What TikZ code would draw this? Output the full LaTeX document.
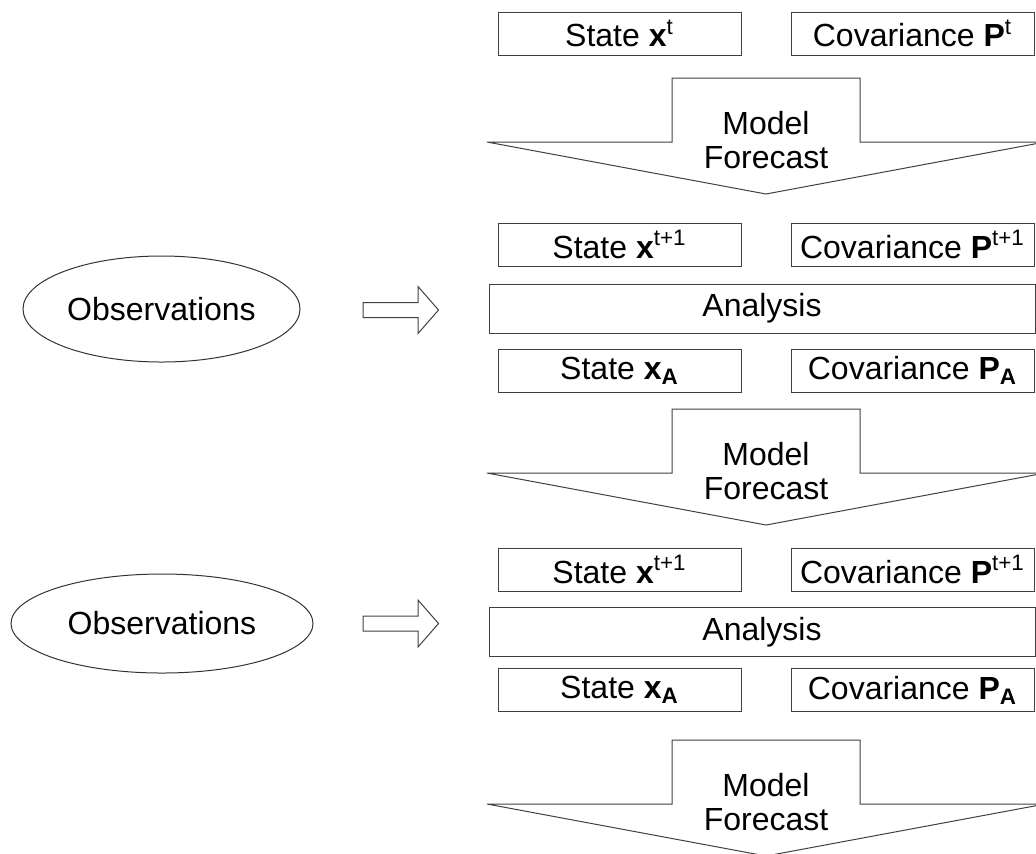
\documentclass[tikz,border=0pt]{standalone}
\usepackage{fontspec}
\setmainfont{Liberation Sans}
\usetikzlibrary{shapes.geometric,positioning}

\tikzset{
  statebox/.style={draw=black!75,line width=0.5pt,minimum width=121.5pt,minimum height=21.5pt,inner sep=0pt},
  analysisbox/.style={statebox,minimum width=273pt,minimum height=24.5pt},
  obsnode/.style={ellipse,draw=black!80,line width=0.5pt,inner sep=0pt},
  blockline/.style={draw=black!75,line width=0.5pt,line join=miter},
}

\begin{document}
\begin{tikzpicture}[x=0.5pt,y=-0.5pt,font=\fontsize{16}{19}\selectfont]
  \clip (0,0) rectangle (1036,853);

  % initial state
  \node[statebox] (S0) at (619.5,33.5) {State \textbf{x}\textsuperscript{t}};
  \node[statebox,right=24.5pt of S0] (P0) {Covariance \textbf{P}\textsuperscript{t}};

  % model forecast arrows
  \foreach \y [count=\i] in {78,409,740} {
    \draw[blockline] (487,\y+64) -- (672,\y+64) -- (672,\y) -- (860,\y)
      -- (860,\y+64) -- (1045,\y+64) -- (766,\y+116) -- cycle;
    \node[align=center,font=\fontsize{16}{17}\selectfont] (F\i) at (766,\y+62) {Model\\Forecast};
  }

  % first analysis cycle
  \node[statebox] (S1) at (619.5,244.5) {State \textbf{x}\textsuperscript{t+1}};
  \node[statebox,right=24.5pt of S1] (P1) {Covariance \textbf{P}\textsuperscript{t+1}};
  \node[analysisbox] (A1) at (762,308.5) {Analysis};
  \node[statebox] (SA1) at (619.5,370.5) {State \textbf{x}\textsubscript{\textbf{A}}};
  \node[statebox,right=24.5pt of SA1] (PA1) {Covariance \textbf{P}\textsubscript{\textbf{A}}};
  \node[obsnode,minimum width=138.5pt,minimum height=53pt] (O1) at (161.5,309) {Observations};
  \draw[blockline] (363,302.5) -- (418,302.5) -- (418,286.5) -- (438.5,310)
    -- (418,333.5) -- (418,317.5) -- (363,317.5) -- cycle;

  % second analysis cycle
  \node[statebox] (S2) at (619.5,569.5) {State \textbf{x}\textsuperscript{t+1}};
  \node[statebox,right=24.5pt of S2] (P2) {Covariance \textbf{P}\textsuperscript{t+1}};
  \node[analysisbox] (A2) at (762,632) {Analysis};
  \node[statebox] (SA2) at (619.5,690) {State \textbf{x}\textsubscript{\textbf{A}}};
  \node[statebox,right=24.5pt of SA2] (PA2) {Covariance \textbf{P}\textsubscript{\textbf{A}}};
  \node[obsnode,minimum width=151pt,minimum height=49.5pt] (O2) at (162,623.5) {Observations};
  \draw[blockline] (363,616) -- (418,616) -- (418,600) -- (438.5,623.5)
    -- (418,647) -- (418,631) -- (363,631) -- cycle;
\end{tikzpicture}
\end{document}
